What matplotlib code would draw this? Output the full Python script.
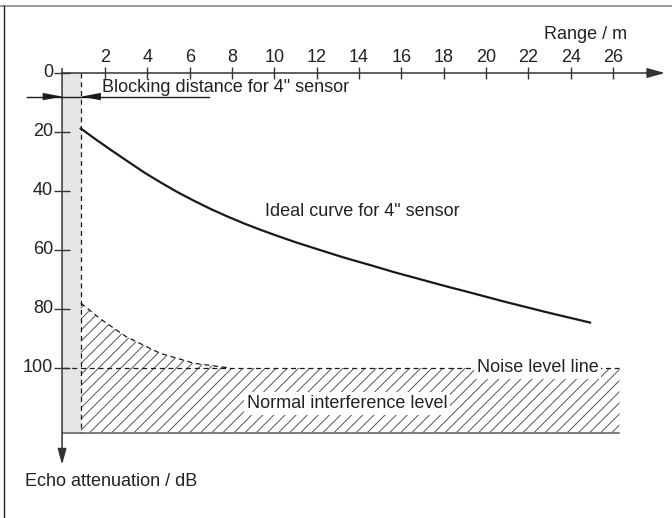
import numpy as np
import matplotlib
matplotlib.use('Agg')
import matplotlib.pyplot as plt

plt.rcParams['font.family'] = ['Liberation Sans', 'DejaVu Sans']
plt.rcParams['hatch.linewidth'] = 0.7

# range ticks (m) and attenuation ticks (dB)
x_ticks = [2, 4, 6, 8, 10, 12, 14, 16, 18, 20, 22, 24, 26]
y_ticks = [0, 20, 40, 60, 80, 100]

# ideal curve for 4" sensor
ideal_range = [0.85, 1.6, 2.3, 3.1, 3.87, 4.65, 5.45, 6.2, 7.02, 7.8, 8.6, 9.4, 10.17, 11.1,
               12.15, 13.3, 14.52, 15.7, 16.88, 18.0, 19.24, 20.81, 22.86, 24.91]
ideal_db = [18.8, 22.7, 26.2, 30.1, 33.8, 37.2, 40.5, 43.3, 46.2, 48.7, 51.1, 53.3, 55.3, 57.6,
            60.0, 62.6, 65.1, 67.6, 69.9, 72.1, 74.4, 77.4, 81.1, 84.6]

# noise curve (upper edge of interference area)
noise_range = [0.86, 1.75, 3.0, 4.6, 6.2, 7.9, 26.3]
noise_db = [78.0, 83.2, 89.4, 95.0, 98.4, 100.0, 100.0]

blocking = 0.86      # blocking distance, m
noise_level = 100    # dB
floor_db = 122       # lower edge of the hatched area
x_end = 26.3

fig = plt.figure(figsize=(6.72, 5.18), dpi=100)
ax = fig.add_axes([0, 0, 1, 1])
# pixel mapping: x_px = 62.7 + 21.17*m ; y_px = 73 + 2.95*dB
ax.set_xlim(-62.7 / 21.17, (672 - 62.7) / 21.17)
ax.set_ylim((518 - 73) / 2.95, -73 / 2.95)
ax.axis('off')

axis_col = '#333333'
line_col = '#1a1a1a'
txt_col = '#222222'
fs = 13

# frame pieces
ax.plot([0, 1], [0.988, 0.988], transform=ax.transAxes, color='#888888', lw=1.2)
ax.plot([0.006, 0.006], [0, 0.988], transform=ax.transAxes, color='#222222', lw=1.0)

# blocking band
ax.fill_between([0, blocking], 0, floor_db, color='#e6e6e6', lw=0, zorder=1)
ax.plot([blocking, blocking], [0, floor_db], color=line_col, lw=0.9, ls=(0, (4, 3)), zorder=3)

# interference area
xs = np.linspace(blocking, x_end, 400)
nx = np.interp(xs, noise_range, noise_db)
ax.fill_between(xs, nx, floor_db, facecolor='none', edgecolor='#555555', hatch='///', lw=0, zorder=2)
ax.plot(noise_range[:-1], noise_db[:-1], color=line_col, lw=0.9, ls=(0, (4, 3)), zorder=3)
ax.plot([0, x_end], [noise_level, noise_level], color=line_col, lw=0.9, ls=(0, (4, 3)), zorder=3)
ax.plot([0, x_end], [floor_db, floor_db], color='#666666', lw=1.2, zorder=3)

# ideal curve
ax.plot(ideal_range, ideal_db, color=line_col, lw=1.6, zorder=4, solid_joinstyle='round')

# axes with arrows
ax.annotate('', xy=(28.45, 0), xytext=(-0.05, 0),
            arrowprops=dict(arrowstyle='-|>,head_length=0.9,head_width=0.25', mutation_scale=12,
                            color=axis_col, lw=1.1, shrinkA=0, shrinkB=0), zorder=5)
ax.annotate('', xy=(-0.03, 132.8), xytext=(-0.03, -1.5),
            arrowprops=dict(arrowstyle='-|>,head_length=0.8,head_width=0.22', mutation_scale=12,
                            color=axis_col, lw=1.1, shrinkA=0, shrinkB=0), zorder=5)

ax.plot(x_ticks, [0] * len(x_ticks), ls='none', marker='|', ms=9, mew=1.0, color=axis_col, zorder=5)
for t in x_ticks:
    ax.text(t, -5.2, str(t), ha='center', va='center', fontsize=fs, color=txt_col)
ax.plot([-0.03] * len(y_ticks), y_ticks, ls='none', marker='_', ms=11, mew=1.0, color=axis_col, zorder=5)
for t in y_ticks:
    ax.text(-0.45, t, str(t), ha='right', va='center', fontsize=fs, color=txt_col)

ax.text(26.66, -13.2, 'Range / m', ha='right', va='center', fontsize=fs, color=txt_col)
ax.text(-1.78, 138.5, 'Echo attenuation / dB', ha='left', va='center', fontsize=fs, color=txt_col)

# blocking distance dimension
ax.plot([-1.7, 6.9], [8.0, 8.0], color=line_col, lw=1.0, zorder=5)
ax.annotate('', xy=(0, 8.0), xytext=(-0.8, 8.0),
            arrowprops=dict(arrowstyle='-|>,head_length=1.2,head_width=0.22', mutation_scale=12,
                            color=line_col, lw=0, shrinkA=0, shrinkB=0), zorder=6)
ax.annotate('', xy=(blocking, 8.0), xytext=(blocking + 0.8, 8.0),
            arrowprops=dict(arrowstyle='-|>,head_length=1.2,head_width=0.22', mutation_scale=12,
                            color=line_col, lw=0, shrinkA=0, shrinkB=0), zorder=6)
ax.text(1.84, 4.9, 'Blocking distance for 4" sensor', ha='left', va='center', fontsize=fs, color=txt_col)

ax.text(9.55, 46.9, 'Ideal curve for 4" sensor', ha='left', va='center', fontsize=fs, color=txt_col)
ax.text(19.55, 99.8, 'Noise level line', ha='left', va='center', fontsize=fs, color=txt_col, zorder=6,
        bbox=dict(facecolor='white', edgecolor='none', pad=2))
ax.text(8.7, 112.0, 'Normal interference level', ha='left', va='center', fontsize=fs, color=txt_col, zorder=6,
        bbox=dict(facecolor='white', edgecolor='none', pad=2))

fig.savefig('out.png', dpi=100)
